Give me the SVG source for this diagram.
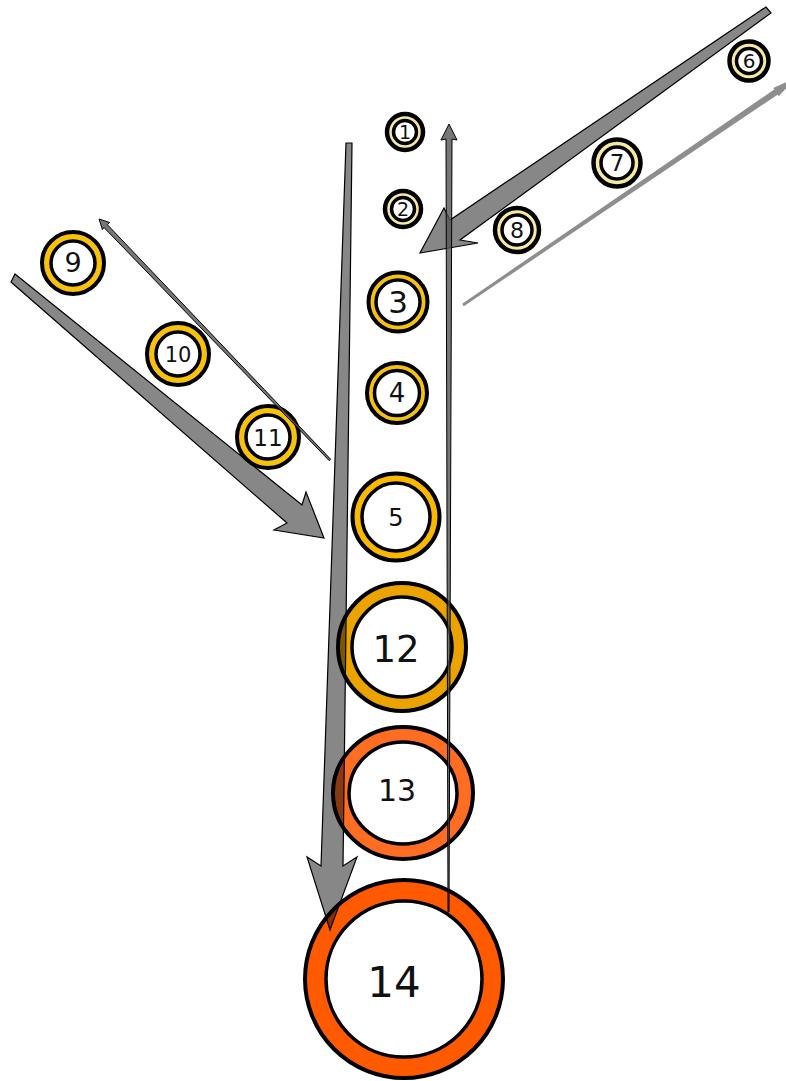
<svg xmlns="http://www.w3.org/2000/svg" width="786" height="1081" viewBox="0 0 786 1081">
<style>
.o{stroke:#000;stroke-width:4}
.s{stroke-width:4.5}
.i{fill:#fff;stroke:#000;stroke-width:3.5}
.pale{fill:#f6e9a2}
.gold{fill:#f7c20e}
.amber{fill:#fbb800}
.og{fill:#eba300}
.or1{fill:#ff6d22}
.or2{fill:#ff5a00}
text{font-family:"DejaVu Sans","Liberation Sans",sans-serif;fill:#111;text-anchor:middle;dominant-baseline:central}
.arr{fill:#000;fill-opacity:0.47;stroke:#000;stroke-width:1.2;stroke-linejoin:miter}
.thin{fill:#555;fill-opacity:0.8;stroke:#000;stroke-width:1}
.lite{fill:#7a7a7a;fill-opacity:0.85;stroke:none}
</style>
<rect width="786" height="1081" fill="#fff"/>
<g id="n1"><circle class="o s pale" cx="405" cy="132" r="18"/><circle class="i" cx="405" cy="132" r="11.5"/><text x="405" y="132" font-size="19">1</text></g>
<g id="n2"><circle class="o s pale" cx="403" cy="209" r="18"/><circle class="i" cx="403" cy="209" r="11.5"/><text x="403" y="209" font-size="19">2</text></g>
<g id="n3"><circle class="o gold" cx="398" cy="302" r="29.5"/><circle class="i" cx="398" cy="302" r="22"/><text x="398" y="302" font-size="31">3</text></g>
<g id="n4"><circle class="o gold" cx="397" cy="393" r="30"/><circle class="i" cx="397" cy="393" r="22.5"/><text x="397" y="393" font-size="26">4</text></g>
<g id="n5"><circle class="o amber" cx="396" cy="517" r="43.5"/><circle class="i" cx="396" cy="517" r="34"/><text x="396" y="518" font-size="24">5</text></g>
<g id="n6"><circle class="o s pale" cx="749" cy="61" r="19.5"/><circle class="i" cx="749" cy="61" r="12.5"/><text x="749" y="61" font-size="20">6</text></g>
<g id="n7"><circle class="o s pale" cx="617" cy="163" r="23.5"/><circle class="i" cx="617" cy="163" r="16"/><text x="617" y="163" font-size="23">7</text></g>
<g id="n8"><circle class="o s pale" cx="517" cy="230" r="22"/><circle class="i" cx="517" cy="230" r="15"/><text x="517" y="230" font-size="22">8</text></g>
<g id="n9"><circle class="o gold" cx="73" cy="263" r="31"/><circle class="i" cx="73" cy="263" r="22"/><text x="73" y="262" font-size="27">9</text></g>
<g id="n10"><circle class="o gold" cx="178" cy="354" r="31"/><circle class="i" cx="178" cy="354" r="22"/><text x="178" y="355" font-size="21">10</text></g>
<g id="n11"><circle class="o gold" cx="268" cy="437" r="31"/><circle class="i" cx="268" cy="437" r="22"/><text x="268" y="438" font-size="23">11</text></g>
<g id="n12"><circle class="o og" cx="402" cy="647" r="64"/><circle class="i" cx="402" cy="647" r="50"/><text x="396" y="649" font-size="37">12</text></g>
<g id="n13"><ellipse class="o or1" cx="403" cy="793" rx="70" ry="66"/><ellipse class="i" cx="403" cy="793" rx="54" ry="51"/><text x="397" y="790" font-size="30">13</text></g>
<g id="n14"><circle class="o or2" cx="404" cy="979" r="99"/><circle class="i" cx="404" cy="979" r="78"/><text x="394" y="982" font-size="42">14</text></g>
<g id="connectors">
<polygon class="arr" points="346,143 352,143 343,866 357,857 330,930 307,857 321,866"/>
<polygon class="arr" points="766,7 450,220 444,208 420,253 478,243 460,240 771,13"/>
<polygon class="arr" points="15,274 302,505 306,492 324,538 274,530 287,523 11,282"/>
<polygon class="thin" points="449,912 448,912 446,139 441,140 449,124 457,140 452,139"/>
<polygon class="thin" points="330.7,459.3 329.3,460.7 104,227.5 102.4,229.5 99,219 109.6,222.5 107.4,224.7"/>
<polygon class="lite" points="463.8,306.2 462.2,303.8 774.5,89.3 773.2,87.9 796,78 778.8,96.1 777.5,94.7"/>
</g>
</svg>
